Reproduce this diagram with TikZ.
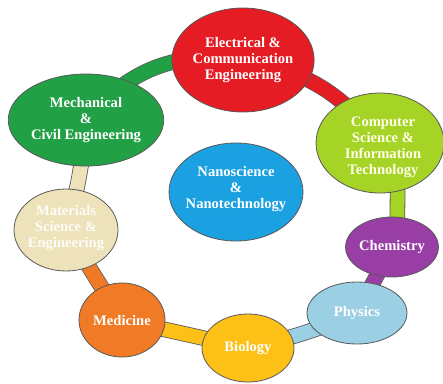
\documentclass[tikz,border=0pt]{standalone}
\usepackage{fontspec}
\setmainfont{Liberation Serif}
\usetikzlibrary{shapes.geometric, backgrounds}

\definecolor{elecRed}{RGB}{229,28,36}
\definecolor{mechGreen}{RGB}{33,160,70}
\definecolor{compLime}{RGB}{165,212,38}
\definecolor{nanoBlue}{RGB}{27,161,226}
\definecolor{matBeige}{RGB}{237,226,186}
\definecolor{chemPurple}{RGB}{152,62,165}
\definecolor{physBlue}{RGB}{155,207,228}
\definecolor{medOrange}{RGB}{240,122,38}
\definecolor{bioYellow}{RGB}{252,192,22}

\begin{document}
\begin{tikzpicture}[x=1pt,y=-1pt,
    every node/.style={font=\fontsize{14.6}{16}\selectfont\bfseries,text=white,align=center}]
  \tikzstyle{field}=[ellipse,draw=black!65,line width=0.8pt,inner sep=0pt]
  \tikzstyle{band}=[draw=black!65,line width=0.8pt,double distance=14pt,shorten <=-3pt,shorten >=-3pt]

  \useasboundingbox (0,0) rectangle (443,383);

  % Fields around the ring
  \node[field, fill=elecRed,    minimum width=126pt, minimum height=104pt] (elec) at (243,60)  {Electrical \&\\Communication\\Engineering};
  \node[field, fill=mechGreen,  minimum width=130pt, minimum height=92pt]  (mech) at (86,120)  {Mechanical\\\&\\Civil Engineering};
  \node[field, fill=compLime,   minimum width=128pt, minimum height=100pt] (comp) at (380,143) {};
  \node[text=white!92!yellow] at (383,147) {Computer\\Science \&\\Information\\Technology};
  \node[field, fill=matBeige,   minimum width=104pt, minimum height=82pt]  (mat)  at (66,230)  {};
  \node[text=white!90!matBeige] at (66,228) {Materials\\Science \&\\Engineering};
  \node[field, fill=chemPurple, minimum width=86pt,  minimum height=60pt]  (chem) at (392,247) {Chemistry};
  \node[field, fill=physBlue,   minimum width=100pt, minimum height=62pt]  (phys) at (357,313) {Physics};
  \node[field, fill=medOrange,  minimum width=86pt,  minimum height=74pt]  (med)  at (122,320) {Medicine};
  \node[field, fill=bioYellow,  minimum width=92pt,  minimum height=68pt]  (bio)  at (248,348) {Biology};

  % Centre node
  \node[field, fill=nanoBlue,   minimum width=134pt, minimum height=98pt]  (nano) at (236,192) {};
  \node at (236,189) {Nanoscience\\\&\\Nanotechnology};

  % Links between neighbouring fields
  \begin{scope}[on background layer]
    \path (mech.center) edge[band, double=mechGreen, bend left=30] (elec.center);
    \path (elec.center) edge[band, double=elecRed, bend left=22]   (comp.center);
    \path (comp.-70)    edge[band, double=compLime]                (chem.80);
    \path (chem.center) edge[band, double=chemPurple]              (phys.center);
    \path (phys.center) edge[band, double=physBlue, bend left=5]   (bio.center);
    \path (bio.center)  edge[band, double=bioYellow]               (med.center);
    \path (med.center)  edge[band, double=medOrange]               (mat.center);
    \path (mat.center)  edge[band, double=matBeige, bend right=6]  (mech.center);
  \end{scope}
\end{tikzpicture}
\end{document}
